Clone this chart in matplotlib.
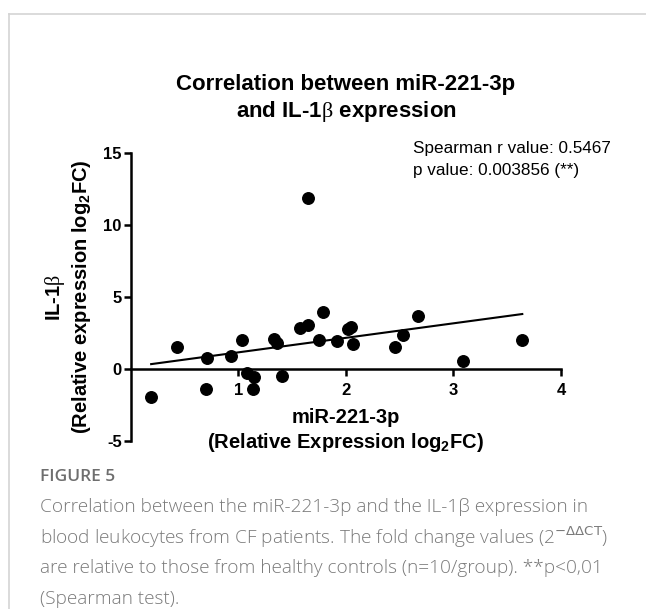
import matplotlib
matplotlib.use('Agg')
import matplotlib.pyplot as plt
import numpy as np
from matplotlib.lines import Line2D

plt.rcParams['font.family'] = ['Liberation Sans', 'DejaVu Sans']
plt.rcParams['axes.unicode_minus'] = False
plt.rcParams['mathtext.fontset'] = 'custom'
plt.rcParams['mathtext.rm'] = 'Liberation Serif'
plt.rcParams['mathtext.bf'] = 'Liberation Sans:bold'
plt.rcParams['mathtext.sf'] = 'DejaVu Sans'

# relative expression (log2FC) per patient
mir221 = [0.19, 0.43, 0.71, 0.70, 0.93, 1.03, 1.08, 1.15, 1.14, 1.33, 1.36, 1.41, 1.57,
          1.645, 1.645, 1.79, 1.75, 1.92, 2.02, 2.05, 2.07, 2.46, 2.53, 2.67, 3.085, 3.64]
il1b = [-1.97, 1.55, 0.78, -1.37, 0.92, 1.99, -0.26, -0.56, -1.41, 2.10, 1.83, -0.47, 2.83,
        3.03, 11.9, 3.98, 2.03, 1.97, 2.80, 2.92, 1.72, 1.53, 2.39, 3.68, 0.58, 1.99]

x_ticks = [1, 2, 3, 4]
y_ticks = [-5, 0, 5, 10, 15]
spearman_r = '0.5467'
p_value = '0.003856'

caption_lines = [
    'Correlation between the miR-221-3p and the IL-1\u03b2 expression in',
    'blood leukocytes from CF patients. The fold change values (2$^{\\mathsf{-\\Delta\\Delta CT}}$)',
    'are relative to those from healthy controls (n=10/group). **p<0,01',
    '(Spearman test).',
]

W, H = 646, 609
fig = plt.figure(figsize=(W / 100, H / 100), dpi=100)
ax = fig.add_axes([130.7 / W, 1 - 441 / H, 430.3 / W, 288 / H])

ax.plot(mir221, il1b, 'o', color='black', markersize=8.3, zorder=3, clip_on=False)

# linear regression line over the data range
slope, icpt = np.polyfit(mir221, il1b, 1)
fx = np.array([min(mir221), max(mir221)])
ax.plot(fx, slope * fx + icpt, color='black', lw=1.5, zorder=2)

ax.set_xlim(0, 4)
ax.set_ylim(-5, 15)
ax.spines['top'].set_visible(False)
ax.spines['right'].set_visible(False)
ax.spines['bottom'].set_position(('data', 0))
for s in ['left', 'bottom']:
    ax.spines[s].set_linewidth(1.8)
ax.set_xticks(x_ticks)
ax.set_yticks(y_ticks)
ax.tick_params(axis='both', width=1.8, length=5, labelsize=12)
ax.tick_params(axis='y', pad=1.5)
ax.tick_params(axis='x', pad=5)
for lab in ax.get_xticklabels() + ax.get_yticklabels():
    lab.set_fontweight('bold')

ax.text(-0.1457, 0.5, 'IL-1$\\mathrm{\\beta}$\n(Relative expression log$_\\mathbf{2}$FC)',
        rotation=90, transform=ax.transAxes, ha='center', va='center',
        fontsize=14.5, fontweight='bold', multialignment='center')
ax.text(0.5, 0.0347, 'miR-221-3p\n(Relative Expression log$_\\mathbf{2}$FC)',
        transform=ax.transAxes, ha='center', va='center',
        fontsize=14.5, fontweight='bold', multialignment='center')

fig.text(346 / W, 1 - 99 / H, 'Correlation between miR-221-3p\nand IL-1$\\mathrm{\\beta}$ expression',
         ha='center', va='center', fontsize=16, fontweight='bold', multialignment='center')

fig.text(413 / W, 1 - 159.5 / H, 'Spearman r value: ' + spearman_r + '\np value: ' + p_value + ' (**)',
         ha='left', va='center', fontsize=12.3, linespacing=1.6)

# frame around the figure panel
fig.add_artist(Line2D([9.3 / W, 1], [1 - 14.3 / H, 1 - 14.3 / H], color='#d4d4d4', lw=1.2))
fig.add_artist(Line2D([9.3 / W, 9.3 / W], [0, 1 - 14.3 / H], color='#d4d4d4', lw=1.2))

# caption
cap_font = ['Open Sans', 'DejaVu Sans']
fig.text(40 / W, 1 - 477 / H, 'FIGURE 5', fontsize=12.5, fontweight='semibold', color='#6e6e6e',
         family=cap_font, va='center')
for i, line in enumerate(caption_lines):
    fig.text(40 / W, 1 - (507 + 30.7 * i) / H, line, fontsize=13.7, color='#7a7a7a',
             family=cap_font, fontweight='light', va='center')

fig.savefig('out.png', dpi=100)
